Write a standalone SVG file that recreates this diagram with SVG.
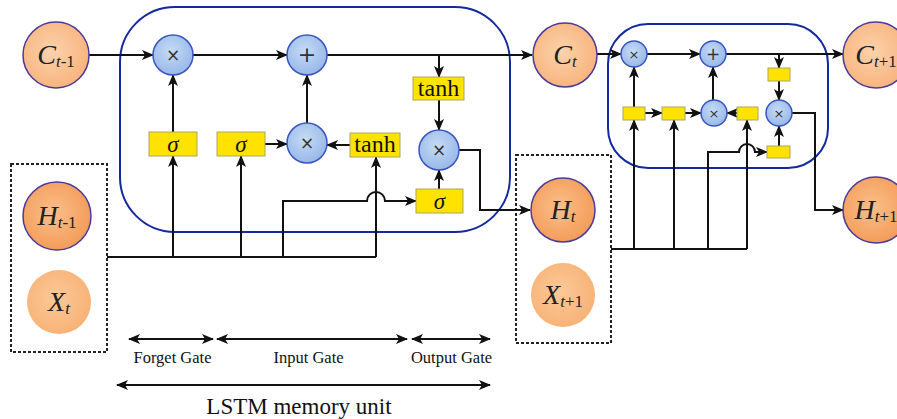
<svg xmlns="http://www.w3.org/2000/svg" width="897" height="419" viewBox="0 0 897 419">
<style>
.ln{fill:none;stroke:#111;stroke-width:2}
.ar{marker-end:url(#ah)}
.dbl{marker-start:url(#ahs);marker-end:url(#ah)}
.op{fill:url(#gb);stroke:#3a55c0;stroke-width:1.5}
.sym{font-family:'DejaVu Sans',sans-serif;fill:#333;text-anchor:middle}
.yb{fill:#ffe200;stroke:#a8a860;stroke-width:1}
.lbl{font-family:'Liberation Serif','Times New Roman',serif;text-anchor:middle;fill:#111}
.cell{fill:none;stroke:#1428a0;stroke-width:2}
.dot{fill:none;stroke:#222;stroke-width:2;stroke-dasharray:3,2}
.cc{fill:url(#go);stroke:#4a3a9c;stroke-width:1.5}
.hc{fill:url(#gh);stroke:#4a3a9c;stroke-width:1.5}
.xc{fill:url(#gx)}
.var{font-family:'Liberation Serif','Times New Roman',serif;font-style:italic;font-size:28px;text-anchor:middle;fill:#222}
.sub{font-size:17px}
.rm{font-style:normal}
</style>
<defs>
<marker id="ah" viewBox="0 0 12 10" refX="11" refY="5" markerWidth="12" markerHeight="10" markerUnits="userSpaceOnUse" orient="auto"><path d="M0,0 L12,5 L0,10 L3,5 Z" fill="#111"/></marker>
<marker id="ahs" viewBox="0 0 12 10" refX="1" refY="5" markerWidth="12" markerHeight="10" markerUnits="userSpaceOnUse" orient="auto"><path d="M12,0 L0,5 L12,10 L9,5 Z" fill="#111"/></marker>
<radialGradient id="go" cx="0.45" cy="0.45" r="0.6"><stop offset="0" stop-color="#fcd2ad"/><stop offset="1" stop-color="#f7b27a"/></radialGradient>
<radialGradient id="gh" cx="0.45" cy="0.45" r="0.6"><stop offset="0" stop-color="#fabf8c"/><stop offset="1" stop-color="#f39a55"/></radialGradient>
<radialGradient id="gx" cx="0.45" cy="0.45" r="0.6"><stop offset="0" stop-color="#fcc99a"/><stop offset="1" stop-color="#f7b174"/></radialGradient>
<radialGradient id="gb" cx="0.45" cy="0.4" r="0.6"><stop offset="0" stop-color="#c6dbf6"/><stop offset="1" stop-color="#98b8e8"/></radialGradient>
</defs>

<g id="cell1"><rect class="cell" x="120" y="7" width="390" height="225" rx="55"/></g>
<g id="cell2"><rect class="cell" x="608" y="24" width="220" height="144" rx="40"/></g>
<g id="box-prev"><rect class="dot" x="11" y="164" width="96" height="188"/></g>
<g id="box-cur"><rect class="dot" x="516" y="155" width="95" height="188"/></g>

<g id="connectors">
<line class="ln ar" x1="89" y1="55" x2="153" y2="55"/>
<line class="ln ar" x1="193" y1="55" x2="287" y2="55"/>
<line class="ln ar" x1="327" y1="55" x2="532" y2="55"/>
<line class="ln ar" x1="439" y1="55" x2="439" y2="77"/>
<line class="ln ar" x1="439" y1="100" x2="439" y2="130"/>
<line class="ln ar" x1="439" y1="189" x2="439" y2="170"/>
<path class="ln ar" d="M459,150 H480 V210 H530"/>
<line class="ln ar" x1="173" y1="132" x2="173" y2="75"/>
<line class="ln ar" x1="265" y1="144" x2="287" y2="144"/>
<line class="ln ar" x1="307" y1="123" x2="307" y2="75"/>
<line class="ln ar" x1="350" y1="145" x2="327" y2="145"/>
<line class="ln" x1="107" y1="257" x2="376" y2="257"/>
<line class="ln ar" x1="173" y1="257" x2="173" y2="156"/>
<line class="ln ar" x1="241" y1="257" x2="241" y2="156"/>
<line class="ln ar" x1="376" y1="257" x2="376" y2="157"/>
<path class="ln ar" d="M283,257 V201 H367 A9,9 0 0 1 385,201 H416"/>

<line class="ln ar" x1="597" y1="54" x2="621" y2="54"/>
<line class="ln ar" x1="647" y1="54" x2="700" y2="54"/>
<line class="ln ar" x1="726" y1="54" x2="843" y2="54"/>
<line class="ln ar" x1="779" y1="54" x2="779" y2="68"/>
<line class="ln ar" x1="779" y1="81" x2="779" y2="100"/>
<line class="ln ar" x1="779" y1="146" x2="779" y2="126"/>
<path class="ln ar" d="M792,113 H815 V210 H843"/>
<line class="ln ar" x1="645" y1="113" x2="662" y2="113"/>
<line class="ln ar" x1="685" y1="113" x2="701" y2="113"/>
<line class="ln ar" x1="737" y1="113" x2="727" y2="113"/>
<line class="ln ar" x1="713" y1="100" x2="713" y2="67"/>
<line class="ln ar" x1="634" y1="107" x2="634" y2="67"/>
<line class="ln" x1="611" y1="249" x2="747" y2="249"/>
<line class="ln ar" x1="634" y1="249" x2="634" y2="120"/>
<line class="ln ar" x1="674" y1="249" x2="674" y2="120"/>
<line class="ln ar" x1="747" y1="249" x2="747" y2="120"/>
<path class="ln ar" d="M708,249 V152 H739 A8,8 0 0 1 755,152 H767"/>

<line class="ln dbl" x1="129" y1="339" x2="213" y2="339"/>
<line class="ln dbl" x1="217" y1="339" x2="407" y2="339"/>
<line class="ln dbl" x1="412" y1="339" x2="490" y2="339"/>
<line class="ln dbl" x1="117" y1="385" x2="490" y2="385"/>
</g>

<g id="c-prev"><circle class="cc" cx="56" cy="55" r="33"/><text class="var" x="56" y="64">C<tspan class="sub" dy="3">t</tspan><tspan class="sub rm">-1</tspan></text></g>
<g id="h-prev"><circle class="hc" cx="57" cy="216" r="34"/><text class="var" x="57" y="225">H<tspan class="sub" dy="3">t</tspan><tspan class="sub rm">-1</tspan></text></g>
<g id="x-cur"><circle class="xc" cx="59" cy="302" r="32"/><text class="var" x="59" y="311">X<tspan class="sub" dy="3">t</tspan></text></g>
<g id="c-cur"><circle class="cc" cx="565" cy="55" r="32"/><text class="var" x="565" y="64">C<tspan class="sub" dy="3">t</tspan></text></g>
<g id="h-cur"><circle class="hc" cx="563" cy="210" r="32"/><text class="var" x="563" y="219">H<tspan class="sub" dy="3">t</tspan></text></g>
<g id="x-next"><circle class="xc" cx="563" cy="295" r="32"/><text class="var" x="563" y="304">X<tspan class="sub" dy="3">t</tspan><tspan class="sub rm">+1</tspan></text></g>
<g id="c-next"><circle class="cc" cx="876" cy="55" r="33"/><text class="var" x="876" y="64">C<tspan class="sub" dy="3">t</tspan><tspan class="sub rm">+1</tspan></text></g>
<g id="h-next"><circle class="hc" cx="876" cy="210" r="33"/><text class="var" x="876" y="219">H<tspan class="sub" dy="3">t</tspan><tspan class="sub rm">+1</tspan></text></g>

<g id="mul-forget"><circle class="op" cx="173" cy="55" r="20"/><text class="sym" x="173" y="61" font-size="17">×</text></g>
<g id="add"><circle class="op" cx="307" cy="55" r="20"/><text class="sym" x="307" y="62" font-size="22">+</text></g>
<g id="mul-input"><circle class="op" cx="307" cy="143" r="20"/><text class="sym" x="307" y="149" font-size="17">×</text></g>
<g id="mul-output"><circle class="op" cx="439" cy="150" r="20"/><text class="sym" x="439" y="156" font-size="17">×</text></g>

<g id="sig-forget"><rect class="yb" x="149" y="132" width="48" height="24"/><text class="lbl" x="173" y="152" font-size="23" font-style="italic">σ</text></g>
<g id="sig-input"><rect class="yb" x="217" y="132" width="48" height="24"/><text class="lbl" x="241" y="152" font-size="23" font-style="italic">σ</text></g>
<g id="tanh-input"><rect class="yb" x="350" y="133" width="50" height="24"/><text class="lbl" x="375" y="152" font-size="24">tanh</text></g>
<g id="tanh-output"><rect class="yb" x="413" y="77" width="51" height="23"/><text class="lbl" x="438.5" y="96" font-size="24">tanh</text></g>
<g id="sig-output"><rect class="yb" x="416" y="189" width="47" height="24"/><text class="lbl" x="439.5" y="209" font-size="23" font-style="italic">σ</text></g>

<g id="mul-forget2"><circle class="op" cx="634" cy="54" r="13"/><text class="sym" x="634" y="59" font-size="13">×</text></g>
<g id="add2"><circle class="op" cx="713" cy="54" r="13"/><text class="sym" x="713" y="60" font-size="17">+</text></g>
<g id="mul-input2"><circle class="op" cx="714" cy="113" r="13"/><text class="sym" x="714" y="118" font-size="13">×</text></g>
<g id="mul-output2"><circle class="op" cx="779" cy="113" r="13"/><text class="sym" x="779" y="118" font-size="13">×</text></g>
<g id="gate2-a"><rect class="yb" x="623" y="107" width="22" height="13"/></g>
<g id="gate2-b"><rect class="yb" x="662" y="107" width="23" height="13"/></g>
<g id="gate2-c"><rect class="yb" x="737" y="107" width="21" height="13"/></g>
<g id="gate2-d"><rect class="yb" x="768" y="68" width="22" height="13"/></g>
<g id="gate2-e"><rect class="yb" x="767" y="146" width="23" height="12"/></g>

<g id="labels">
<text class="lbl" x="172.5" y="363" font-size="16.5">Forget Gate</text>
<text class="lbl" x="308.5" y="363" font-size="16.5">Input Gate</text>
<text class="lbl" x="451.5" y="363" font-size="16.5">Output Gate</text>
<text class="lbl" x="299" y="414" font-size="23">LSTM memory unit</text>
</g>
</svg>
